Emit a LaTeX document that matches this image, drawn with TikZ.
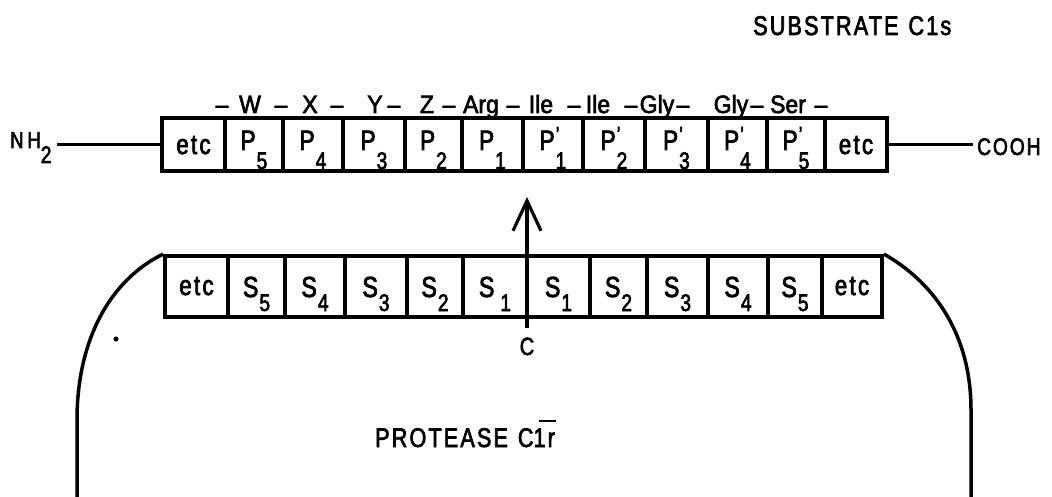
\documentclass[tikz,border=0pt]{standalone}
\usepackage{fontspec}
\setmainfont{Liberation Sans}[FakeStretch=0.8,FakeBold=2.5]
\newfontfamily\spaced{Liberation Sans}[FakeStretch=0.8,LetterSpace=8,FakeBold=2.5]
\newfontfamily\seqfont{Liberation Sans}[FakeStretch=0.92,FakeBold=2.5]
\usetikzlibrary{arrows.meta}

% font size shortcut
\newcommand{\fs}[1]{\fontsize{#1}{#1}\selectfont}
% residue / site label: letter, subscript, drop of subscript, prime
\newcommand{\lab}[4]{#1\kern1pt\makebox[0pt][l]{\raisebox{-#3}{\fs{24}#2}}%
  \makebox[0pt][l]{\raisebox{8pt}{\fs{22}#4}}\phantom{\fs{24}#2}}
\newcommand{\Pl}[2]{\lab{P}{#1}{19pt}{#2}}
\newcommand{\Sl}[1]{\lab{S}{#1}{14pt}{}}

\begin{document}
\begin{tikzpicture}[x=1pt,y=-1pt,
  cell/.style={draw,line width=3.8pt,inner sep=0pt},
  pcell/.style={cell,minimum height=53pt,font=\fs{28},text height=24pt,text depth=13pt},
  petc/.style={cell,minimum height=53pt,font=\spaced\fs{28},text height=24pt,text depth=5pt},
  scell/.style={cell,minimum height=61pt,font=\fs{29},text height=26pt,text depth=5pt},
  setc/.style={cell,minimum height=61pt,font=\spaced\fs{28},text height=24pt,text depth=7pt},
  seq/.style={anchor=base,inner sep=0pt,font=\seqfont\fs{25}},
  lbl/.style={anchor=base west,inner sep=0pt,font=\spaced\fs{27}},
  bond/.style={line width=3.5pt},
  outline/.style={line width=3.5pt}]
\useasboundingbox (0,0) rectangle (1052,497);

% title of the substrate
\node[lbl] (sub) at (753,35) {SUBSTRATE\hspace{10pt}C1s};

% amino-acid sequence above the substrate chain
\foreach \x/\t [count=\i] in {222/–,250/W,281/–,310/X,337/–,375/Y,394/–,427/Z,449/–,
  481/Arg,513/–,541/Ile,574/–,598/Ile,631/–,657/Gly,683/–,731/Gly,757/–,788/Ser,821/–}
  \node[seq] (q\i) at (\x,113) {\t};

% substrate chain: P sites
\node[petc,minimum width=63pt] (t0)  at (193.5,144.5) {etc};
\node[pcell,minimum width=58pt] (t1) at (254,144.5)   {\Pl{5}{}};
\node[pcell,minimum width=60pt] (t2) at (313,144.5)   {\Pl{4}{}};
\node[pcell,minimum width=62pt] (t3) at (374,144.5)   {\Pl{3}{}};
\node[pcell,minimum width=57pt] (t4) at (433.5,144.5) {\Pl{2}{}};
\node[pcell,minimum width=61pt] (t5) at (492.5,144.5) {\Pl{1}{}};
\node[pcell,minimum width=60pt] (t6) at (553,144.5)   {\Pl{1}{'}};
\node[pcell,minimum width=62pt] (t7) at (614,144.5)   {\Pl{2}{'}};
\node[pcell,minimum width=63pt] (t8) at (676.5,144.5) {\Pl{3}{'}};
\node[pcell,minimum width=59pt] (t9) at (737.5,144.5) {\Pl{4}{'}};
\node[pcell,minimum width=58pt] (t10) at (796,144.5)  {\Pl{5}{'}};
\node[petc,minimum width=62pt] (t11) at (856,144.5)   {etc};

% chain ends
\node[anchor=base west,inner sep=0pt,font=\spaced\fs{23}] (nh) at (10,148)
  {N\hspace{4pt}H\raisebox{-15pt}{\fs{24}2}};
\node[anchor=base west,inner sep=0pt,font=\spaced\fs{24}] (cooh) at (977,155) {COOH};
\draw[bond] ([xshift=5pt]nh.east |- t0.west) -- (t0.west);
\draw[bond] (t11.east) -- ([xshift=-4pt]cooh.west |- t11.east);

% protease: S subsites
\node[setc,minimum width=63pt] (s0)  at (196.5,286.5) {etc};
\node[scell,minimum width=57pt] (s1) at (256.5,286.5) {\Sl{5}};
\node[scell,minimum width=60pt] (s2) at (315,286.5)   {\Sl{4}};
\node[scell,minimum width=62pt] (s3) at (376,286.5)   {\Sl{3}};
\node[scell,minimum width=56pt] (s4) at (435,286.5)   {\Sl{2}};
\node[scell,minimum width=64pt] (s5) at (495,286.5)   {S\hspace{6pt}\raisebox{-14pt}{\fs{24}1}};
\node[scell,minimum width=63pt] (s6) at (558.5,286.5) {\Sl{1}};
\node[scell,minimum width=57pt] (s7) at (618.5,286.5) {\Sl{2}};
\node[scell,minimum width=61pt] (s8) at (677.5,286.5) {\Sl{3}};
\node[scell,minimum width=60pt] (s9) at (738,286.5)   {\Sl{4}};
\node[scell,minimum width=54pt] (s10) at (795,286.5)  {\Sl{5}};
\node[setc,minimum width=60pt] (s11) at (852,286.5)   {etc};

% cleavage arrow from the catalytic site
\node[anchor=base,inner sep=0pt,font=\fs{25}] (c) at (527,355) {C};
\coordinate (tip) at (527,197);
\draw[line width=3.2pt,-{Straight Barb[length=30pt,width=28pt]}]
  ([yshift=9pt]c.north) -- (tip);

% body of the protease
\draw[outline] (s0.north west) .. controls (110,280) and (77,340) .. (77,420) -- (77,500);
\draw[outline] (s11.north east) .. controls (930,280) and (971,330) .. (971,410) -- (971,500);
\fill (116,339) circle (2.6pt);

\node[lbl] (prot) at (375,447)
  {PROTEASE\hspace{10pt}C\makebox[0pt][l]{\hspace{5pt}\raisebox{25pt}{\rule{17pt}{2.2pt}}}1r};
\end{tikzpicture}
\end{document}
